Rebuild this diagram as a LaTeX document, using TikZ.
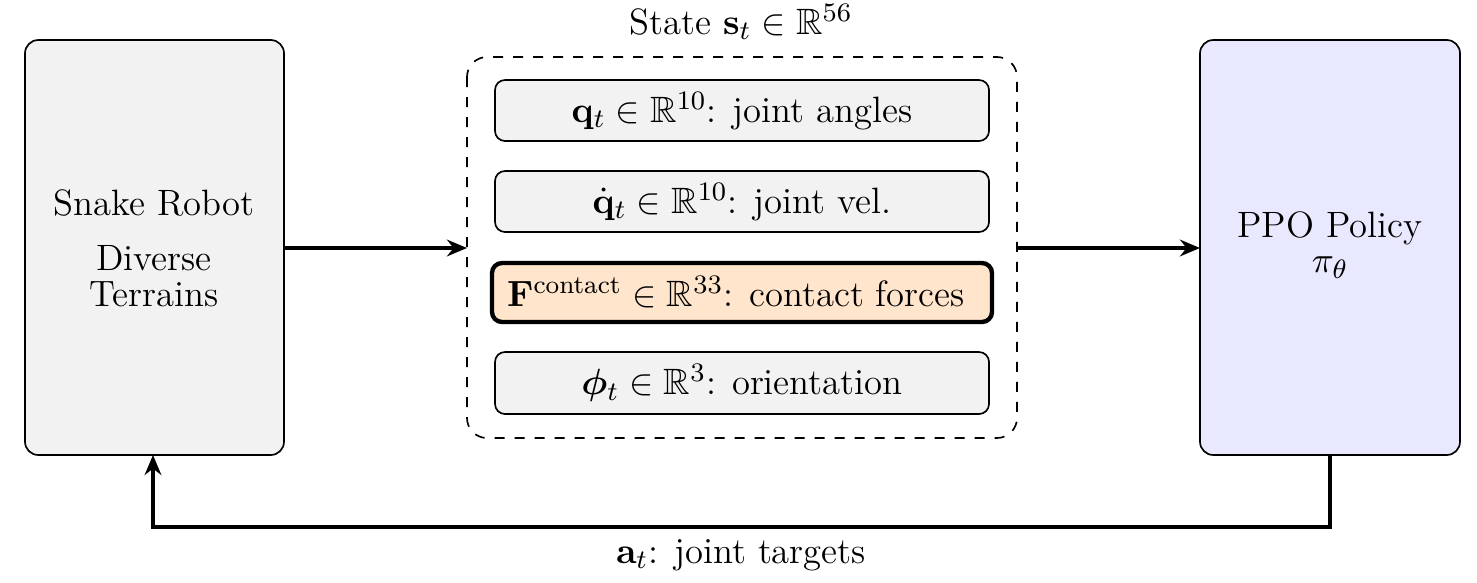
\documentclass[tikz,border=0pt]{standalone}
\usepackage{amsmath,amssymb,bm}
\usetikzlibrary{arrows.meta}
\begin{document}
\begin{tikzpicture}[x=0.3pt,y=-0.3pt,
  big/.style={draw,rounded corners=4pt,line width=0.5pt},
  item/.style={draw,rounded corners=3pt,fill=black!5,line width=0.5pt},
  conn/.style={line width=1.3pt,-{Stealth[length=6pt,width=5pt]}},
  txt/.style={font=\fontsize{11}{13}\selectfont,align=center,inner sep=1pt}]
\useasboundingbox (0,0) rectangle (1477,582);
\draw[big,fill=black!5] (25,40) rectangle (284,455);
\coordinate (Lin) at (284,248); \coordinate (Lbot) at (153,455);
\node[txt] (sr) at (154,203) {Snake Robot};
\node[txt] (dt) at (154,276) {Diverse\\[-2pt]Terrains};
\draw[big,fill=blue!9] (1200,40) rectangle (1460,455);
\coordinate (Rin) at (1200,248); \coordinate (Rbot) at (1330,455);
\node[txt] (ppo) at (1330,228) {PPO Policy};
\node[txt] (pi) at (1330,268) {$\pi_\theta$};
\draw[dashed,rounded corners=6pt,line width=0.5pt] (467,57) rectangle (1017,438);
\coordinate (Sin) at (467,248); \coordinate (Sout) at (1017,248);
\node[txt] (title) at (741,22) {State $\mathbf{s}_t \in \mathbb{R}^{56}$};
\path[item] (495,80) rectangle (989,141);
\node[txt] (q) at (742,111) {$\mathbf{q}_t \in \mathbb{R}^{10}$: joint angles};
\path[item] (495,171) rectangle (989,232);
\node[txt] (qd) at (742,202) {$\dot{\mathbf{q}}_t \in \mathbb{R}^{10}$: joint vel.};
\path[item,fill=orange!20,line width=1.3pt] (492,263) rectangle (992,322);
\node[txt] (F) at (736,292) {$\mathbf{F}^{\text{contact}} \in \mathbb{R}^{33}$: contact forces};
\path[item] (495,352) rectangle (989,414);
\node[txt] (phi) at (742,383) {$\bm{\phi}_t \in \mathbb{R}^{3}$: orientation};
\draw[conn] (Lin) -- (Sin);
\draw[conn] (Sout) -- (Rin);
\draw[conn] (Rbot) |- (741,527) -| (Lbot);
\node[txt] (at) at (741,555) {$\mathbf{a}_t$: joint targets};
\end{tikzpicture}
\end{document}
